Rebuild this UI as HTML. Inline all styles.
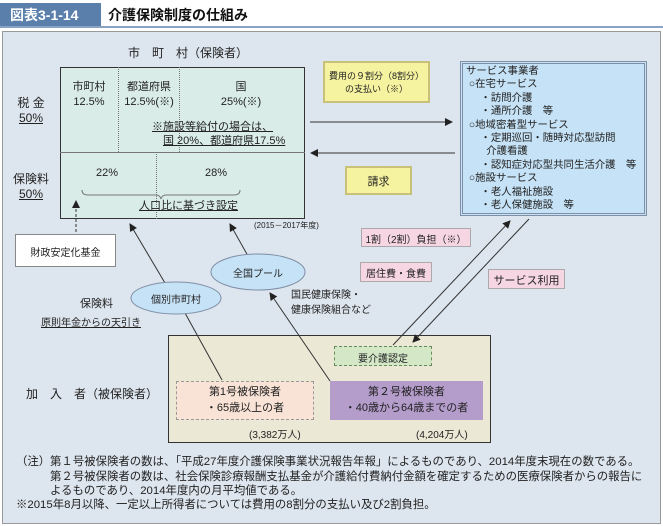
<!DOCTYPE html>
<html><head><meta charset="utf-8"><style>
*{margin:0;padding:0;box-sizing:border-box}
body{width:663px;height:526px;background:#fff;font-family:"Liberation Sans","Noto Sans CJK JP",sans-serif;color:#222;position:relative;overflow:hidden}
.a{position:absolute;white-space:nowrap}
.c{text-align:center}
.f11{font-size:11px}.f10{font-size:10px}.f9{font-size:9px}.f12{font-size:12px}
.box{position:absolute}
.n{position:absolute;white-space:nowrap;font-size:11.4px;line-height:14.5px}
</style></head><body>
<div class="a" style="left:0;top:3px;width:101px;height:23px;background:#5b7fab"></div>
<div class="a" style="left:0;top:26px;width:663px;height:2px;background:#8aa3c2"></div>
<div class="a" style="left:10px;top:5px;font-size:14px;font-weight:bold;color:#fff">図表3-1-14</div>
<div class="a" style="left:108px;top:5px;font-size:14px;font-weight:bold;color:#111">介護保険制度の仕組み</div>
<div class="box" style="left:2px;top:31px;width:659px;height:493px;background:#dde5ee;border:1px solid #999"></div>

<div class="a f12" style="left:128px;top:44px">市　町　村（保険者）</div>
<div class="box" style="left:60px;top:67px;width:245px;height:152px;background:#d9ece8;border:1.5px solid #333"></div>
<div class="box" style="left:60px;top:152px;width:245px;height:1px;background:#777"></div>
<div class="box" style="left:118px;top:67px;height:85px;border-left:1px dotted #777"></div>
<div class="box" style="left:179px;top:67px;height:85px;border-left:1px dotted #777"></div>
<div class="box" style="left:156px;top:152px;height:67px;border-left:1px dotted #777"></div>
<div class="a f11 c" style="left:66px;top:80px;width:46px;line-height:15px">市町村<br>12.5%</div>
<div class="a f11 c" style="left:118px;top:80px;width:62px;line-height:15px">都道府県<br>12.5%(※)</div>
<div class="a f11 c" style="left:210px;top:80px;width:62px;line-height:15px">国<br>25%(※)</div>
<div class="a f11" style="left:152px;top:118px;text-decoration:underline">※施設等給付の場合は、</div>
<div class="a f11" style="left:163px;top:132px;text-decoration:underline">国 20%、都道府県17.5%</div>
<div class="a f11" style="left:96px;top:167px">22%</div>
<div class="a f11" style="left:205px;top:167px">28%</div>
<div class="a f11" style="left:139px;top:197px;text-decoration:underline">人口比に基づき設定</div>
<div class="a f12 c" style="left:12px;top:96px;width:38px;line-height:15px">税 金<br><u>50%</u></div>
<div class="a f12 c" style="left:12px;top:172px;width:38px;line-height:15px">保険料<br><u>50%</u></div>
<div class="a" style="left:254px;top:220px;font-size:8px">(2015－2017年度)</div>

<div class="box" style="left:15px;top:234px;width:101px;height:33px;background:#fff;border:1px solid #888"></div>
<div class="a f10 c" style="left:15px;top:244px;width:101px">財政安定化基金</div>

<div class="box" style="left:323px;top:61px;width:107px;height:42px;background:#f6f3a0;border:2px solid #c9c07a"></div>
<div class="a f9 c" style="left:323px;top:70px;width:107px;line-height:13px">費用の９割分（8割分）<br>の支払い（※）</div>
<div class="box" style="left:345px;top:166px;width:67px;height:29px;background:#f6f3a0;border:2px solid #c9c07a"></div>
<div class="a f11 c" style="left:345px;top:173px;width:67px">請求</div>

<div class="box" style="left:460px;top:61px;width:187px;height:155px;background:#c6e2f6;border:3px double #7f8fa6"></div>
<div class="a" style="left:466px;top:65px;line-height:13.4px;font-size:10.4px">サービス事業者<br>&nbsp;○在宅サービス<br>&nbsp;&nbsp;&nbsp;&nbsp;&nbsp;・訪問介護<br>&nbsp;&nbsp;&nbsp;&nbsp;&nbsp;・通所介護　等<br>&nbsp;○地域密着型サービス<br>&nbsp;&nbsp;&nbsp;&nbsp;&nbsp;・定期巡回・随時対応型訪問<br>&nbsp;&nbsp;&nbsp;&nbsp;&nbsp;&nbsp;&nbsp;介護看護<br>&nbsp;&nbsp;&nbsp;&nbsp;&nbsp;・認知症対応型共同生活介護　等<br>&nbsp;○施設サービス<br>&nbsp;&nbsp;&nbsp;&nbsp;&nbsp;・老人福祉施設<br>&nbsp;&nbsp;&nbsp;&nbsp;&nbsp;・老人保健施設　等</div>

<div class="box" style="left:361px;top:228px;width:110px;height:19px;background:#f6d6e3;border:1px solid #aaa"></div>
<div class="a f10 c" style="left:361px;top:231px;width:110px">1割（2割）負担（※）</div>
<div class="box" style="left:360px;top:262px;width:72px;height:20px;background:#f6d6e3;border:1px solid #aaa"></div>
<div class="a f10 c" style="left:360px;top:265px;width:72px">居住費・食費</div>
<div class="box" style="left:488px;top:269px;width:77px;height:20px;background:#f6d6e3;border:1px solid #aaa"></div>
<div class="a f11 c" style="left:488px;top:272px;width:77px">サービス利用</div>

<div class="box" style="left:168px;top:335px;width:323px;height:108px;background:#ece8d6;border:1.5px solid #333"></div>
<div class="box" style="left:334px;top:346px;width:98px;height:20px;background:#d4e8c8;border:1px dashed #6a8a5a"></div>
<div class="a f10 c" style="left:334px;top:350px;width:98px">要介護認定</div>
<div class="box" style="left:176px;top:381px;width:138px;height:39px;background:#f8e3d6;border:1px dashed #999"></div>
<div class="a f11 c" style="left:176px;top:384px;width:138px;line-height:16px">第1号被保険者<br>・65歳以上の者</div>
<div class="box" style="left:330px;top:381px;width:153px;height:39px;background:#b49ccb"></div>
<div class="a f11 c" style="left:330px;top:384px;width:153px;line-height:16px">第２号被保険者<br>・40歳から64歳までの者</div>
<div class="a f10" style="left:249px;top:426px">(3,382万人)</div>
<div class="a f10" style="left:416px;top:426px">(4,204万人)</div>
<div class="a f12" style="left:26px;top:385px">加　入　者（被保険者）</div>

<svg class="a" style="left:0;top:0" width="663" height="526">
<defs><marker id="ar" markerWidth="8" markerHeight="8" refX="7" refY="4" orient="auto" markerUnits="userSpaceOnUse"><path d="M0,0 L8,4 L0,8z" fill="#222"/></marker></defs>
<g stroke="#333" stroke-width="1" fill="none">
<line x1="310" y1="122" x2="452" y2="122" marker-end="url(#ar)"/>
<line x1="455" y1="153" x2="311" y2="153" marker-end="url(#ar)"/>
<line x1="76" y1="232" x2="76" y2="201" stroke-dasharray="3,2" marker-end="url(#ar)"/>
<line x1="165" y1="283" x2="130" y2="224" marker-end="url(#ar)"/>
<line x1="248" y1="256" x2="230" y2="224" marker-end="url(#ar)"/>
<line x1="185" y1="313" x2="222" y2="380"/>
<line x1="330" y1="381" x2="270" y2="293" marker-end="url(#ar)"/>
<line x1="393" y1="345" x2="510" y2="221" marker-end="url(#ar)"/>
<line x1="529" y1="219" x2="413" y2="342" marker-end="url(#ar)"/>
<path d="M82,190 q0,5 6,5 h68 q4,0 5,4 q1,-4 5,-4 h68 q6,0 6,-5" stroke="#777"/>
</g>
<ellipse cx="258" cy="272" rx="47" ry="18" fill="#c6e2f6" stroke="#7f8fa6"/>
<ellipse cx="176" cy="298" rx="45" ry="16" fill="#c6e2f6" stroke="#7f8fa6"/>
</svg>
<div class="a f10 c" style="left:211px;top:265px;width:94px">全国プール</div>
<div class="a f10 c" style="left:131px;top:291px;width:90px">個別市町村</div>
<div class="a f10" style="left:291px;top:288px;line-height:15px">国民健康保険・<br>健康保険組合など</div>
<div class="a f11" style="left:80px;top:295px">保険料</div>
<div class="a f10" style="left:41px;top:314px;text-decoration:underline">原則年金からの天引き</div>

<div class="n" style="left:16px;top:455px">（注）</div>
<div class="n" style="left:50px;top:455px">第１号被保険者の数は、「平成27年度介護保険事業状況報告年報」によるものであり、2014年度末現在の数である。<br>第２号被保険者の数は、社会保険診療報酬支払基金が介護給付費納付金額を確定するための医療保険者からの報告に<br>よるものであり、2014年度内の月平均値である。</div>
<div class="n" style="left:16px;top:498px">※2015年8月以降、一定以上所得者については費用の8割分の支払い及び2割負担。</div>
</body></html>
